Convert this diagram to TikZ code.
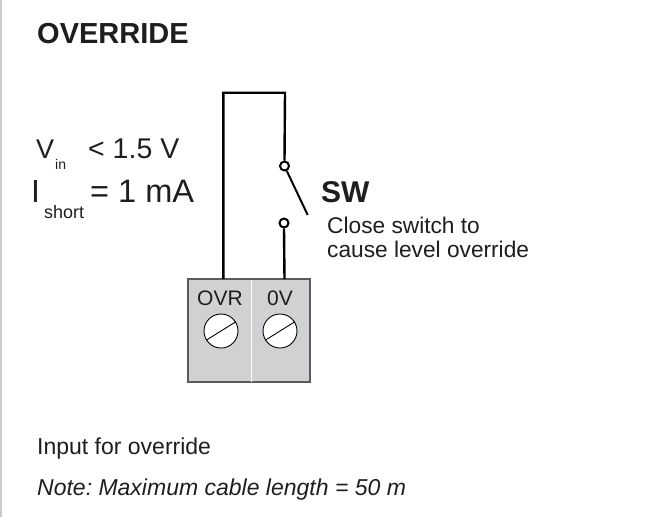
\documentclass[tikz,border=0pt]{standalone}
\usepackage{fontspec}
\setmainfont{Liberation Sans}
\frenchspacing
\definecolor{blockgrey}{HTML}{D0D1D3}
\definecolor{blockedge}{HTML}{5A5B5D}
\definecolor{framegrey}{HTML}{CCCCCC}
\definecolor{ink}{HTML}{1E1E1E}
\begin{document}
\begin{tikzpicture}[x=1pt,y=-1pt,
  txt/.style={inner sep=0, anchor=base west, text=ink},
  wire/.style={line width=2.4pt, black, line join=miter},
  blade/.style={line width=2pt, black},
  contact/.style={circle, draw=black, line width=2pt, fill=white, minimum size=9pt, inner sep=0},
  screw/.style={circle, draw=black, line width=0.9pt, fill=white, minimum size=34pt, inner sep=0},
  slash/.style={line width=0.9pt, black},
  block/.style={draw=blockedge, line width=1.2pt, fill=blockgrey, minimum width=122pt, minimum height=103pt, inner sep=0},
  termlabel/.style={inner sep=0, anchor=base, text=ink, font=\fontsize{21}{24}\selectfont}
]
\useasboundingbox (0,0) rectangle (659,517);
\draw[framegrey, line width=1.6pt] (1,0) -- (1,517);

% title
\node[txt, font=\fontsize{29}{32}\selectfont\bfseries] (title) at (37,43) {OVERRIDE};

% ratings
\node[txt, font=\fontsize{27}{30}\selectfont] (vin) at (36,158) {V};
\node[txt, font=\fontsize{14}{16}\selectfont] (vinsub) at (55,169) {in};
\node[txt, font=\fontsize{28.5}{30}\selectfont] (vinval) at (88,158) {< 1.5 V};
\node[txt, font=\fontsize{32}{34}\selectfont] (ish) at (31,202) {I};
\node[txt, font=\fontsize{18}{20}\selectfont] (ishsub) at (44,218) {short};
\node[txt, font=\fontsize{32.5}{34}\selectfont] (ishval) at (90,202) {= 1 mA};

% terminal block
\node[block] (blk) at (249,330.5) {};
\draw[white, line width=1pt] (251,280) -- (251,381.5);
\node[termlabel] (lovr) at (220,305) {OVR};
\node[termlabel] (lov) at (280,305) {0V};
\node[screw] (s1) at (221,331) {};
\node[screw] (s2) at (280,331) {};
\draw[slash] (s1.212) -- (s1.32);
\draw[slash] (s2.212) -- (s2.32);

% wiring and switch
\coordinate (ovrtop) at (223.3,279);
\coordinate (ovtop) at (284.5,279);
\coordinate (corner) at (285,92.7);
\node[contact] (c1) at (284.5,166) {};
\node[contact] (c2) at (284,223) {};
\coordinate (bladeend) at (307.7,215);
\draw[wire] (ovrtop) |- (corner) -- (c1.north);
\draw[wire] (c2.south) -- (ovtop);
\draw[blade] (c1.-65) -- (bladeend);

% switch label
\node[txt, font=\fontsize{30}{32}\selectfont\bfseries] (sw) at (321,202) {SW};
\node[txt, font=\fontsize{22.7}{24}\selectfont] (sw1) at (327,233) {Close switch to};
\node[txt, font=\fontsize{22.7}{24}\selectfont] (sw2) at (327,257) {cause level override};

% notes
\node[txt, font=\fontsize{23}{24}\selectfont] (note1) at (37,454) {Input for override};
\node[txt, font=\fontsize{23}{24}\selectfont\itshape] (note2) at (37,495) {Note: Maximum cable length = 50 m};
\end{tikzpicture}
\end{document}
